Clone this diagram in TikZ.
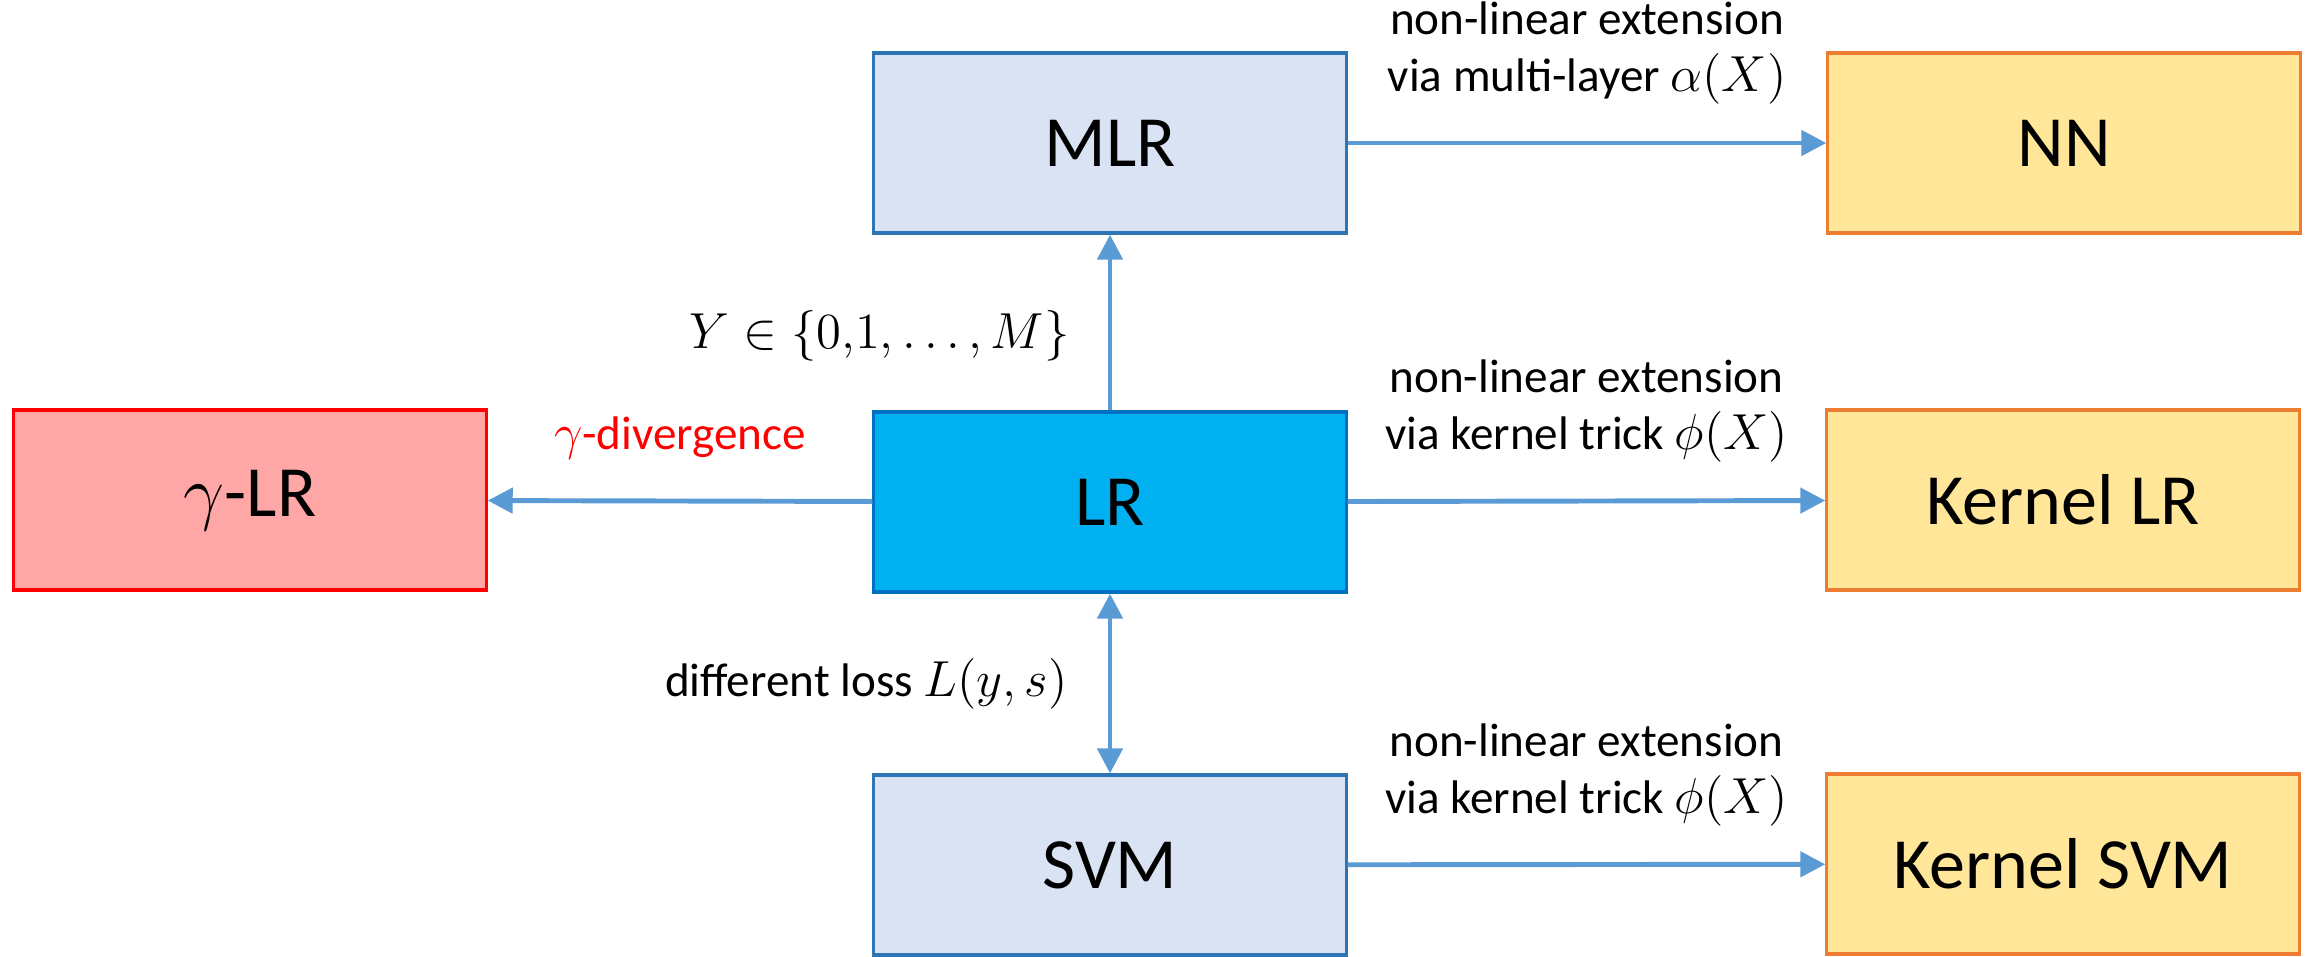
\documentclass[tikz,border=0pt]{standalone}
\usepackage{fontspec}
\setmainfont{Carlito}
\usetikzlibrary{arrows.meta}

\definecolor{lightfill}{HTML}{DAE3F3}
\definecolor{lightdraw}{HTML}{2E75B6}
\definecolor{lrfill}{HTML}{00B0F0}
\definecolor{lrdraw}{HTML}{0070C0}
\definecolor{yellowfill}{HTML}{FFE699}
\definecolor{orangedraw}{HTML}{ED7D31}
\definecolor{redfill}{HTML}{FFA7A7}
\definecolor{arrowblue}{HTML}{5B9BD5}

\begin{document}
\begin{tikzpicture}[x=0.01cm, y=-0.01cm,
    box/.style={draw, line width=0.9pt, minimum width=4.72cm, minimum height=1.8cm,
        inner sep=0pt, font=\fontsize{20.5}{24}\selectfont},
    lightbox/.style={box, fill=lightfill, draw=lightdraw},
    lrbox/.style={box, fill=lrfill, draw=lrdraw},
    yellowbox/.style={box, fill=yellowfill, draw=orangedraw},
    redbox/.style={box, fill=redfill, draw=red},
    conn/.style={draw=arrowblue, line width=1.4pt, -{Triangle[length=0.25cm, width=0.25cm]}},
    dconn/.style={conn, {Triangle[length=0.25cm, width=0.25cm]}-{Triangle[length=0.25cm, width=0.25cm]}},
    lbl/.style={inner sep=0pt, align=center, font=\fontsize{13.4}{16.2}\selectfont}]

    \useasboundingbox (0,0) rectangle (2311,956);

    % boxes
    \node[lightbox] (mlr) at (1110,143) {MLR};
    \node[yellowbox] (nn) at (2064,143) {NN};
    \node[redbox] (glr) at (250,500) {$\gamma$-LR};
    \node[lrbox] (lr) at (1110,502) {LR};
    \node[yellowbox] (klr) at (2063,500) {Kernel LR};
    \node[lightbox] (svm) at (1110,865) {SVM};
    \node[yellowbox] (ksvm) at (2063,864) {Kernel SVM};

    % non-linear extensions
    \draw[conn] (mlr) -- (nn) node[midway, lbl, above=0.36cm] {non-linear extension\\via multi-layer $\alpha(X)$};
    \draw[conn] (lr) -- (klr) node[midway, lbl, above=0.36cm] {non-linear extension\\via kernel trick $\phi(X)$};
    \draw[conn] (svm) -- (ksvm) node[midway, lbl, above=0.36cm] {non-linear extension\\via kernel trick $\phi(X)$};

    % from LR
    \draw[conn] (lr) -- (mlr) node[midway, lbl, left=0.38cm, yshift=-0.13cm] {$Y \in \{0{,}1{,}\,{\ldots}\,{,}\,M\}$};
    \draw[conn] (lr) -- (glr) node[midway, lbl, above=0.39cm, text=red] {$\gamma$-divergence};
    \draw[dconn] (lr) -- (svm) node[midway, lbl, left=0.4cm] {different loss $L(y,s)$};

\end{tikzpicture}
\end{document}
